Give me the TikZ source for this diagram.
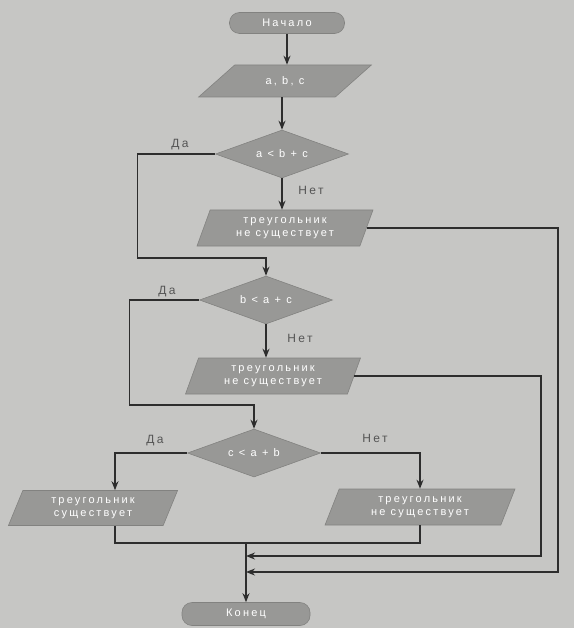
\documentclass[tikz,border=0pt]{standalone}
\usepackage{fontspec}
\setmainfont{Liberation Sans}
\newfontfamily\widefont[LetterSpace=20]{Liberation Sans}
\usetikzlibrary{shapes.geometric,arrows.meta}
\definecolor{bg}{RGB}{198,198,196}
\definecolor{shp}{RGB}{152,152,150}
\definecolor{shpd}{RGB}{130,130,128}
\definecolor{ln}{RGB}{45,45,45}
\definecolor{lbl}{RGB}{85,85,85}
\begin{document}
\begin{tikzpicture}[x=1pt,y=-1pt,
  shapefill/.style={fill=shp, draw=shpd, line width=0.6pt, text=white,
    font=\widefont\fontsize{11}{13}\selectfont, inner sep=0pt, align=center},
  term/.style={shapefill, rectangle, rounded corners=10pt},
  inbox/.style={shapefill, trapezium, trapezium left angle=34, trapezium right angle=146,
    trapezium stretches=true, minimum width=173pt, minimum height=32pt},
  para/.style={shapefill, trapezium, trapezium left angle=68, trapezium right angle=112,
    trapezium stretches=true, minimum height=36pt},
  decision/.style={shapefill, diamond, aspect=2.8, minimum width=133pt, minimum height=48pt},
  arr/.style={draw=ln, line width=1.4pt, -{Stealth[length=9pt,width=7pt]}},
  con/.style={draw=ln, line width=1.4pt},
  yn/.style={text=lbl, font=\widefont\fontsize{12}{14}\selectfont}]
\fill[bg] (0,0) rectangle (574,628);
\useasboundingbox (0,0) rectangle (574,628);

\node[term, minimum width=115pt, minimum height=21pt] (start) at (287,23) {Начало};
\node[inbox] (in) at (285,81) {a, b, c};
\node[decision] (d1) at (282,154) {a < b + c};
\node[para, minimum width=176pt] (p1) at (285,228) {треугольник\\не существует};
\node[decision] (d2) at (266,300) {b < a + c};
\node[para, minimum width=175pt] (p2) at (273,376) {треугольник\\не существует};
\node[decision] (d3) at (254,453) {c < a + b};
\node[para, minimum width=170pt, minimum height=35pt] (p3) at (93,508) {треугольник\\существует};
\node[para, minimum width=190pt] (p4) at (420,507) {треугольник\\не существует};
\node[term, minimum width=128pt, minimum height=23pt] (end) at (246,614) {Конец};

\node[yn] (da1) at (180,145) {Да};
\node[yn] (net1) at (311,190) {Нет};
\node[yn] (da2) at (167,292) {Да};
\node[yn] (net2) at (300,338) {Нет};
\node[yn] (da3) at (155,441) {Да};
\node[yn] (net3) at (375,438) {Нет};

\coordinate (y1) at (0,258);
\coordinate (y2) at (0,405);
\coordinate (xl) at (115,0);
\coordinate (yb) at (0,543);
\coordinate (r1) at (558,572);
\coordinate (r2) at (541,556);

\draw[arr] (start.south) -- (start.south |- in.north);
\draw[arr] (in.south -| d1.north) -- (d1.north);
\draw[arr] (d1.south) -- (d1.south |- p1.north);
\draw[arr] (d1.west) -- ++(-78,0) |- (d2.north |- y1) -- (d2.north);
\draw[arr] (d2.south) -- (d2.south |- p2.north);
\draw[arr] (d2.west) -- ++(-70,0) |- (d3.north |- y2) -- (d3.north);
\draw[arr] (d3.west) -| (p3.north -| xl);
\draw[arr] (d3.east) -| (p4.north);
\draw[con] (p3.south -| xl) |- (p4.south |- yb) -- (p4.south);
\draw[arr] (end.north |- yb) -- (end.north);
\draw[arr] (p1.east) -| (r1) -- (end.north |- r1);
\draw[arr] (p2.east) -| (r2) -- (end.north |- r2);
\end{tikzpicture}
\end{document}
